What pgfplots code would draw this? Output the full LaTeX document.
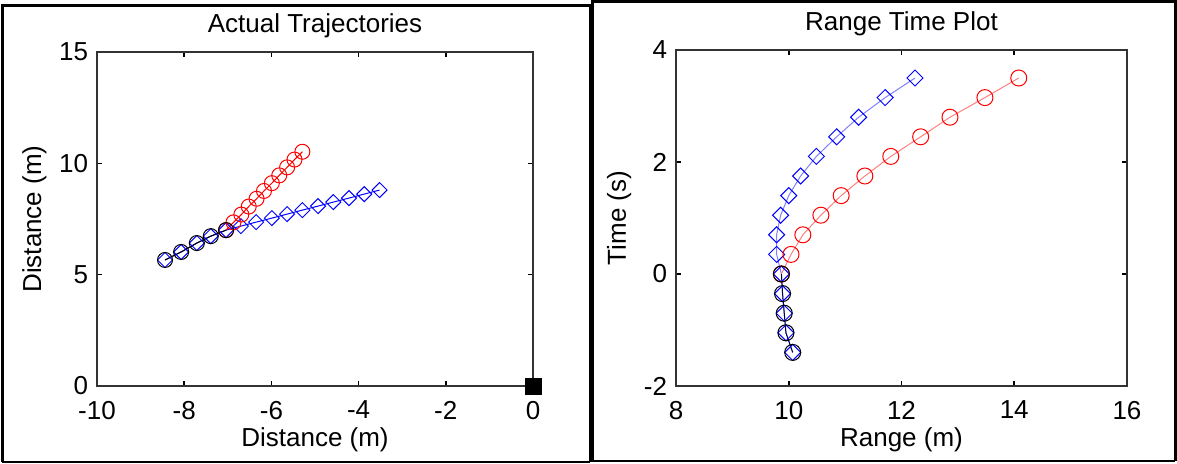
\documentclass[border=0pt]{standalone}
\usepackage{fontspec}
\setmainfont{Liberation Sans}
\usepackage{pgfplots}
\pgfplotsset{compat=1.18}
\newcommand{\fs}{\fontsize{13}{15}\selectfont}
\pgfplotsset{mat/.style={
  scale only axis, anchor=south west,
  axis line style={line width=0.8pt, black!80},
  major tick style={line width=0.8pt, black},
  major tick length=2.5pt, tick align=inside,
  /pgf/number format/assume math mode=true,
  tick label style={font=\fs, inner sep=1pt},
  label style={font=\fs},
  title style={font=\fs, at={(axis description cs:0.5,1)}, anchor=base, yshift=4pt},
  xlabel style={at={(axis description cs:0.5,0)}, anchor=base, yshift=-30pt},
  xticklabel style={yshift=-6.3pt},
  yticklabel style={xshift=-3.3pt},
  clip=false,
}}
\begin{document}
\begin{tikzpicture}
\useasboundingbox (0,0) rectangle (588.5pt,231.5pt);
% panel frames
\draw[line width=1.5pt] (1pt,0.6pt) -- (1pt,229pt) -- (295pt,229pt) -- (295pt,0.6pt);
\draw[line width=0.8pt] (1pt,0.6pt) -- (295pt,0.6pt);
\draw[line width=1.5pt] (296pt,1pt) -- (296pt,230.8pt) -- (587.6pt,230.8pt) -- (587.6pt,1pt);
\draw[line width=0.8pt] (296pt,1pt) -- (587.6pt,1pt);

\begin{axis}[mat, at={(48.5pt,38.5pt)}, width=218pt, height=167pt,
  xmin=-10, xmax=0, ymin=0, ymax=15,
  xtick={-10,-8,-6,-4,-2,0}, ytick={0,5,10,15},
  title={Actual Trajectories},
  xlabel={Distance (m)}, ylabel={Distance (m)},
  ylabel style={at={(axis description cs:-0.128,0.5)}, anchor=base},
]
\addplot[blue, line width=0.5pt, mark=square, mark size=2.65pt, mark options={rotate=45, solid}] coordinates {
 (-8.44,5.66) (-8.07,6.02) (-7.71,6.42) (-7.39,6.73) (-7.04,7.00)
 (-6.70,7.18) (-6.35,7.36) (-5.99,7.54) (-5.64,7.72) (-5.29,7.90)
 (-4.93,8.08) (-4.58,8.26) (-4.22,8.44) (-3.87,8.62) (-3.52,8.80)};
\addplot[red, line width=0.5pt, mark=o, mark size=3.75pt] coordinates {
 (-7.04,7.00) (-6.87,7.35) (-6.69,7.70) (-6.52,8.06) (-6.34,8.41)
 (-6.17,8.76) (-5.99,9.11) (-5.82,9.46) (-5.64,9.82) (-5.47,10.17) (-5.29,10.52)};
\addplot[black, line width=0.5pt, mark=o, mark size=3.75pt] coordinates {
 (-8.44,5.66) (-8.07,6.02) (-7.71,6.42) (-7.39,6.73) (-7.04,7.00)};
\addplot[black, only marks, mark=square*, mark size=4pt] coordinates {(0,0)};
\end{axis}

\begin{axis}[mat, at={(338pt,38.5pt)}, width=225.5pt, height=168pt,
  xmin=8, xmax=16, ymin=-2, ymax=4,
  xtick={8,10,12,14,16}, ytick={-2,0,2,4},
  title={Range Time Plot},
  xlabel={Range (m)}, ylabel={Time (s)},
  ylabel style={at={(axis description cs:-0.111,0.5)}, anchor=base},
]
\addplot[blue!50, line width=0.5pt, mark=square, mark size=2.83pt, mark options={rotate=45, solid, blue}] coordinates {
 (10.07,-1.4) (9.95,-1.05) (9.92,-0.7) (9.89,-0.35) (9.87,0)
 (9.785,0.35) (9.785,0.7) (9.856,1.05) (10.00,1.4) (10.21,1.75)
 (10.49,2.1) (10.85,2.45) (11.24,2.8) (11.71,3.15) (12.24,3.5)};
\addplot[red!50, line width=0.5pt, mark=o, mark size=4pt, mark options={red}] coordinates {
 (9.87,0) (10.04,0.35) (10.25,0.7) (10.57,1.05) (10.93,1.4) (11.35,1.75)
 (11.81,2.1) (12.34,2.45) (12.86,2.8) (13.48,3.15) (14.08,3.5)};
\addplot[black!70!blue, line width=0.5pt, mark=o, mark size=4pt, mark options={black}] coordinates {
 (10.07,-1.4) (9.95,-1.05) (9.92,-0.7) (9.89,-0.35) (9.87,0)};
\end{axis}
\end{tikzpicture}
\end{document}
